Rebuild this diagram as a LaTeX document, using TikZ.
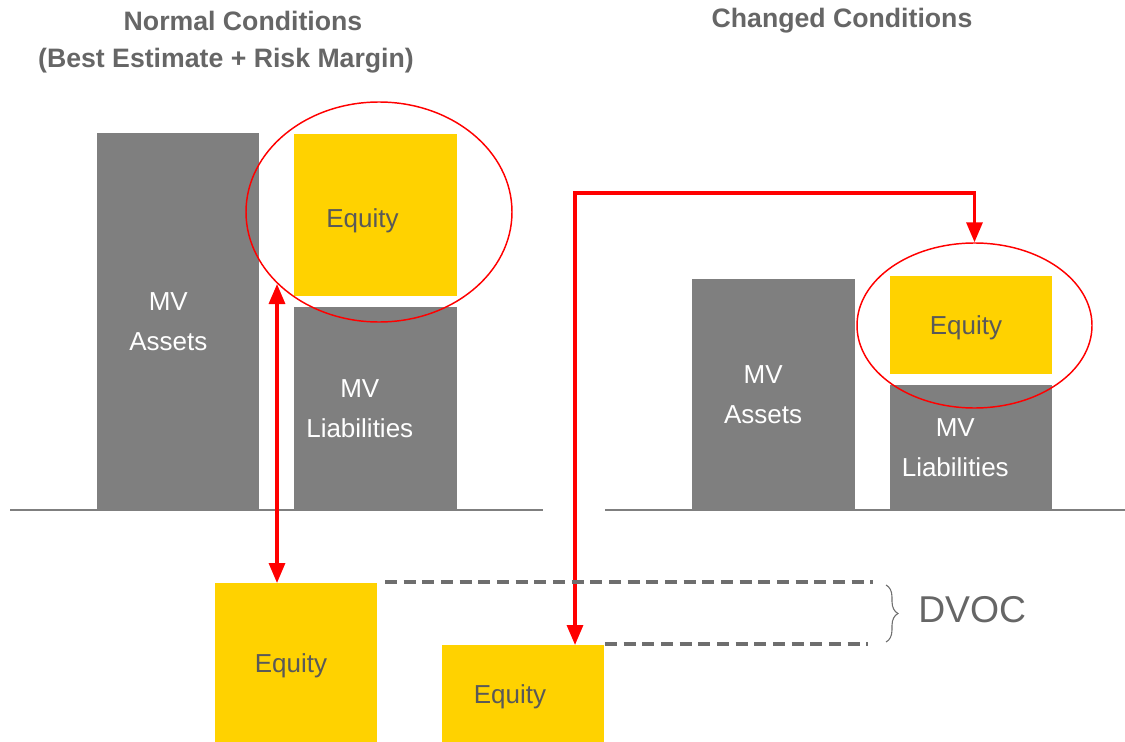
\documentclass[tikz,border=0pt]{standalone}
\usepackage{fontspec}
\setmainfont{Liberation Sans}
\usetikzlibrary{arrows.meta,shapes.geometric,decorations.pathreplacing}
\definecolor{boxgray}{HTML}{7F7F7F}
\definecolor{eqyellow}{HTML}{FFD200}
\definecolor{titlegray}{HTML}{666666}
\definecolor{eqtext}{HTML}{595959}
\definecolor{dashgray}{HTML}{6E6E6E}
\begin{document}
\begin{tikzpicture}[x=0.75pt,y=-0.75pt,
  boxfont/.style={font=\fontsize{19.5}{30}\selectfont,align=center,inner sep=0pt},
  gbox/.style={fill=boxgray,draw=none,anchor=north west,inner sep=0pt},
  ybox/.style={fill=eqyellow,draw=none,anchor=north west,inner sep=0pt},
  gtext/.style={boxfont,text=white},
  ytext/.style={boxfont,text=eqtext,text depth=0pt},
  title/.style={text=titlegray,font=\fontsize{20}{30}\selectfont\bfseries},
  oval/.style={ellipse,draw=red,line width=1.1pt,inner sep=0pt},
  ground/.style={draw=boxgray,line width=1.5pt},
  link/.style={draw=red,line width=2.4pt,{Triangle[width=12pt,length=15pt]}-{Triangle[width=12pt,length=15pt]}},
  guide/.style={draw=dashgray,line width=2.6pt,dash pattern=on 9pt off 5pt},
]
\useasboundingbox (0,0) rectangle (1125,742);

% titles
\node[title] (tL1) at (243,21) {Normal Conditions};
\node[title] (tL2) at (226,61) {(Best Estimate + Risk Margin)};
\node[title] (tR) at (842,21) {Changed Conditions};

% ground lines
\coordinate (gL1) at (10,510);
\coordinate (gL2) at (543,510);
\coordinate (gR1) at (605,510);
\coordinate (gR2) at (1125,510);
\draw[ground] (gL1) -- (gL2);
\draw[ground] (gR1) -- (gR2);

% normal conditions balance sheet
\node[gbox,minimum width=121.5pt,minimum height=282.75pt,
  label={[gtext,xshift=-7.5]center:MV\\Assets}] (aL) at (97,133) {};
\node[ybox,minimum width=122.25pt,minimum height=121.5pt,
  label={[ytext,xshift=-10,yshift=-2]center:Equity}] (eL) at (294,134) {};
\node[gbox,minimum width=122.25pt,minimum height=152.25pt,
  label={[gtext,xshift=-12]center:MV\\Liabilities}] (lL) at (294,307) {};

% changed conditions balance sheet
\node[gbox,minimum width=122.25pt,minimum height=173.25pt,
  label={[gtext,xshift=-8]center:MV\\Assets}] (aR) at (692,279) {};
\node[ybox,minimum width=121.5pt,minimum height=73.5pt,
  label={[ytext,xshift=-4]center:Equity}] (eR) at (890,276) {};
\node[gbox,minimum width=121.5pt,minimum height=93.75pt,
  label={[gtext,xshift=-12]center:MV\\Liabilities}] (lR) at (890,385) {};

% equity compared below
\node[ybox,minimum width=121.5pt,minimum height=119.25pt,
  label={[ytext,xshift=-4]center:Equity}] (eB1) at (215,583) {};
\node[ybox,minimum width=121.5pt,minimum height=72.75pt,
  label={[ytext,xshift=-10]center:Equity}] (eB2) at (442,645) {};

% highlight ovals
\node[oval,minimum width=199.5pt,minimum height=165pt] (oL) at (379,212) {};
\node[oval,minimum width=176.25pt,minimum height=123.75pt] (oR) at (974.5,325.5) {};

% red links
\coordinate (upTip) at (277,284);
\draw[link] (eB1.north west -| upTip) -- (upTip);
\coordinate (turn) at (575,193);
\draw[link] (eB2.north west -| turn) -- (turn) -| (oR.north);

% dashed level guides
\coordinate (d1a) at (385,582);
\coordinate (d1b) at (873,582);
\coordinate (d2a) at (605,644);
\coordinate (d2b) at (868,644);
\draw[guide] (d1a) -- (d1b);
\draw[guide] (d2a) -- (d2b);

% brace and label
\coordinate (b1) at (886,585);
\coordinate (b2) at (886,642);
\draw[dashgray,line width=0.8pt,decorate,decoration={brace,amplitude=9pt}] (b1) -- (b2);
\node[anchor=west,text=titlegray,font=\fontsize{28}{32}\selectfont,inner sep=0pt] (dv) at (918,610) {DVOC};
\end{tikzpicture}
\end{document}
